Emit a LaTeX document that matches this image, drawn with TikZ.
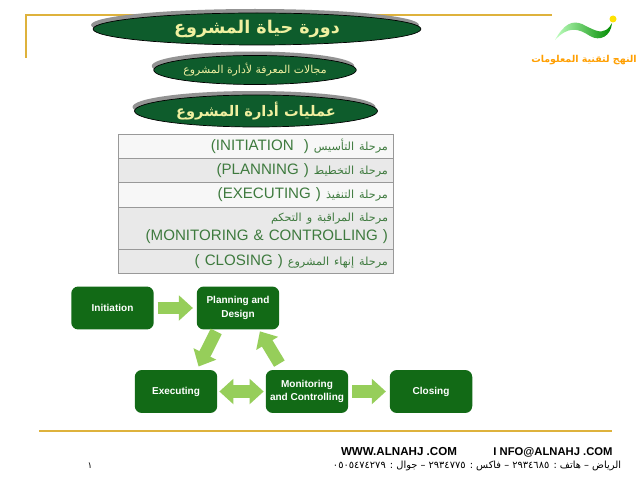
\documentclass[tikz,border=0pt]{standalone}
\usepackage{fontspec}
\setmainfont{Liberation Sans}
\newfontfamily\arabicfont[Script=Arabic]{DejaVu Sans}
\newfontfamily\rowarabic[Script=Arabic,Scale=0.74]{DejaVu Sans}
\TeXXeTstate=1
\definecolor{nahjgold}{RGB}{222,178,60}
\definecolor{ovalgreen}{RGB}{14,92,44}
\definecolor{ovaltext}{RGB}{240,240,160}
\definecolor{boxgreen}{RGB}{18,106,22}
\definecolor{flowgreen}{RGB}{150,206,90}
\definecolor{rowgreen}{RGB}{62,122,62}
\usetikzlibrary{arrows.meta,positioning,shapes.geometric,shadows}

\begin{document}
\begin{tikzpicture}[
  x=0.02cm, y=-0.02cm,
  oval/.style={ellipse, draw=black, fill=ovalgreen, text=ovaltext, font=\bfseries, inner sep=0pt,
    drop shadow={shadow xshift=-0.04cm, shadow yshift=0.08cm, fill=gray!85, opacity=1}},
  rowbox/.style={rectangle, draw=gray!80, text=rowgreen, minimum width=5.5cm, text width=5.3cm, align=right,
    inner sep=0pt, outer sep=0pt, font=\fontsize{8.6}{10.8}\selectfont},
  rowone/.style={rowbox, text height=6.6pt, text depth=2pt},
  phase/.style={rectangle, rounded corners=0.14cm, fill=boxgreen, text=white, minimum width=1.65cm, minimum height=0.86cm,
    font=\bfseries\fontsize{5.7}{7.6}\selectfont, align=center, inner sep=0pt},
  flow/.style={-{Triangle[length=8pt,width=14pt]}, line width=7pt, draw=flowgreen},
  goldline/.style={draw=nahjgold, line width=0.6pt},
]

% Background
\path[use as bounding box, fill=white] (0,0) rectangle (638,479);

% Frame lines
\draw[goldline] (26,58) -- (26,15) -- (552,15);
\draw[goldline] (39,431) -- (612,431);

% Ovals
\node[oval, minimum width=6.56cm, minimum height=0.64cm, font=\bfseries\fontsize{10}{12}\selectfont] (lifecycle) at (257,29) {\arabicfont\beginR دورة حياة المشروع\endR};
\node[oval, minimum width=3.48cm, minimum height=0.58cm, font=\fontsize{6.2}{7}\selectfont] (areas) at (255,70) {\arabicfont\beginR مجالات المعرفة لأدارة المشروع\endR};
\node[oval, minimum width=4.86cm, minimum height=0.64cm, font=\bfseries\fontsize{8.3}{12}\selectfont] (processes) at (256,111) {\arabicfont\beginR عمليات أدارة المشروع\endR};

% Logo
\shade[left color=green!25!white, right color=green!55!black] (555,40) .. controls (564,24) and (572,20) .. (582,24) .. controls (592,29) and (600,34) .. (606,30) .. controls (609,28) and (611,25) .. (612,23) .. controls (611,36) and (600,42) .. (590,36) .. controls (578,28) and (568,26) .. (555,40);
\fill[yellow!85!orange] (613,19) circle (3.5);
\node[text=orange!75!yellow, font=\bfseries\fontsize{5.4}{8}\selectfont, inner sep=0pt] (logotext) at (584,60) {\arabicfont\beginR النهج لتقنية المعلومات\endR};

% Table of phases
\node[rowone, fill=gray!6, minimum height=0.48cm] (row1) at (255.5,146) {\rowarabic\beginR مرحلة التأسيس \beginL\rmfamily(INITIATION \ )\endL\endR};
\node[rowone, fill=gray!17, minimum height=0.48cm, below=0pt of row1] (row2) {\rowarabic\beginR مرحلة التخطيط \beginL\rmfamily(PLANNING )\endL\endR};
\node[rowone, fill=gray!6, minimum height=0.5cm, below=0pt of row2] (row3) {\rowarabic\beginR مرحلة التنفيذ \beginL\rmfamily(EXECUTING )\endL\endR};
\node[rowbox, fill=gray!17, minimum height=0.84cm, below=0pt of row3] (row4) {\rowarabic\beginR مرحلة المراقبة و التحكم\endR\\\rmfamily(MONITORING \& CONTROLLING )};
\node[rowone, fill=gray!17, minimum height=0.48cm, below=0pt of row4] (row5) {\rowarabic\beginR مرحلة إنهاء المشروع \beginL\rmfamily( CLOSING )\endL\endR};

% Phase boxes
\node[phase] (initiation) at (112.5,308) {Initiation};
\node[phase] (planning) at (238,308) {Planning and\\Design};
\node[phase] (executing) at (176,391.5) {Executing};
\node[phase] (monitoring) at (307,391.5) {Monitoring\\and Controlling};
\node[phase] (closing) at (431,391.5) {Closing};

% Arrows
\draw[flow, shorten <=2pt, shorten >=2pt] (initiation) -- (planning);
\draw[flow, shorten <=1pt, shorten >=2pt] ([xshift=-0.42cm]planning.south) -- ([xshift=0.42cm]executing.north);
\draw[flow, shorten <=4pt, shorten >=1pt] ([xshift=-0.48cm]monitoring.north) -- ([xshift=0.42cm]planning.south);
\draw[flow, {Triangle[length=8pt,width=14pt]}-{Triangle[length=8pt,width=14pt]}, shorten <=1pt, shorten >=1pt] (executing) -- (monitoring);
\draw[flow, shorten <=2pt, shorten >=2pt] (monitoring) -- (closing);

% Footer
\node[font=\bfseries\fontsize{6.6}{8}\selectfont, inner sep=0pt] (web) at (399,452) {WWW.ALNAHJ .COM};
\node[font=\bfseries\fontsize{6.4}{8}\selectfont, inner sep=0pt] (mail) at (553,452) {I NFO@ALNAHJ .COM};
\node[font=\fontsize{5.6}{6}\selectfont, inner sep=0pt] (contact) at (477,466) {\arabicfont\beginR الرياض – هاتف : \beginL٢٩٣٤٦٨٥\endL{} – فاكس : \beginL٢٩٣٤٧٧٥\endL{} – جوال : \beginL٠٥٠٥٤٧٤٢٧٩\endL\endR};
\node[font=\fontsize{5}{6}\selectfont, inner sep=0pt] (page) at (90,466) {\arabicfont ١};

\end{tikzpicture}
\end{document}
